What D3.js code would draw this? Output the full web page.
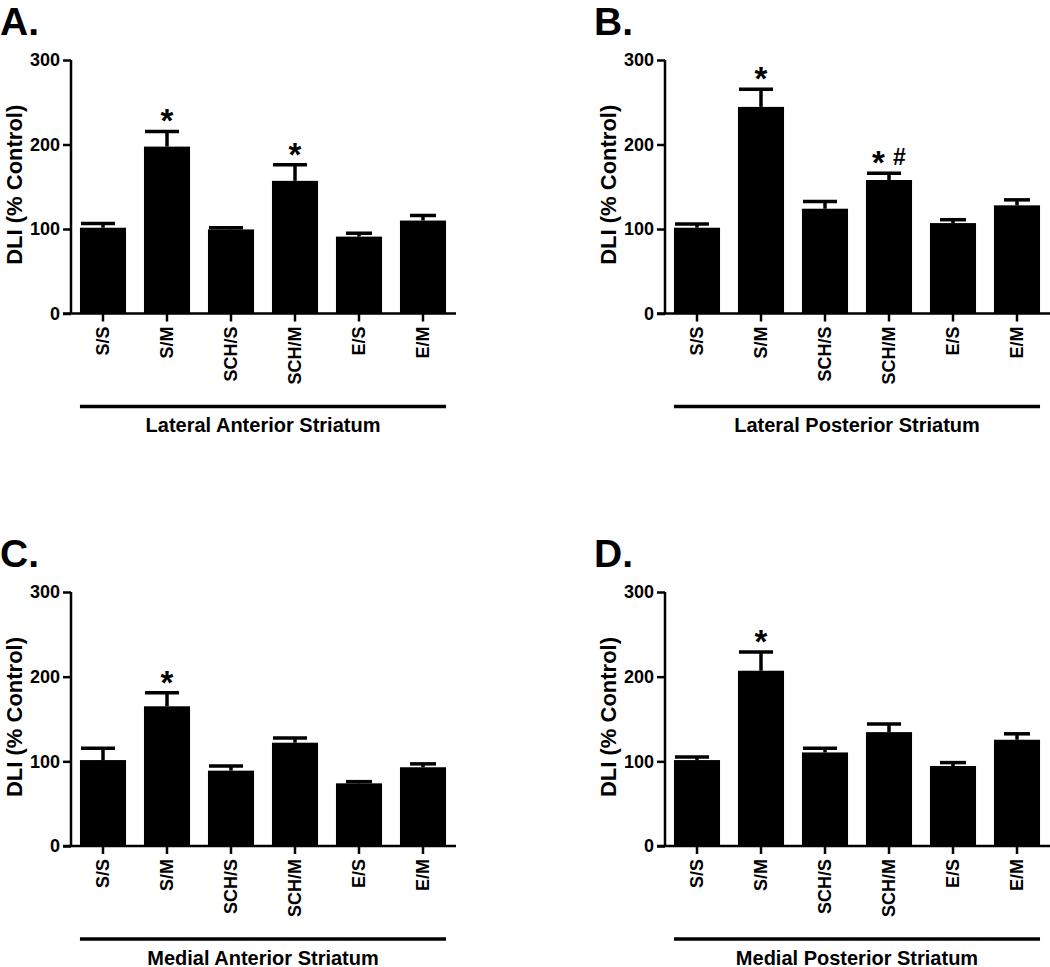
<!DOCTYPE html>
<html>
<head>
<meta charset="utf-8">
<script src="https://cdn.jsdelivr.net/npm/d3@7"></script>
<style>
  html, body { margin: 0; padding: 0; background: #fff; }
  svg text { font-family: "Liberation Sans", Arial, Helvetica, sans-serif; font-weight: bold; fill: #000; }
</style>
</head>
<body>
<svg id="chart" width="1050" height="967"></svg>
<script>
// ---- Data ----
const categories = ["S/S", "S/M", "SCH/S", "SCH/M", "E/S", "E/M"];
const yTicks = [0, 100, 200, 300];
const panelLetters = ["A.", "B.", "C.", "D."];
const regionTitles = ["Lateral Anterior Striatum", "Lateral Posterior Striatum",
                      "Medial Anterior Striatum", "Medial Posterior Striatum"];
const yAxisTitle = "DLI (% Control)";

const meansA = [101.5, 197.5, 99.5, 157, 91, 110];
const semA   = [5, 18, 2, 19, 4, 6];
const meansB = [101.5, 244.5, 124, 158, 107, 128];
const semB   = [4.5, 21, 8.5, 8, 4, 6.5];
const meansC = [101.5, 165, 89, 122, 74, 93];
const semC   = [14, 16, 5.5, 5.5, 2, 4];
const meansD = [101.5, 207, 110.5, 134.5, 94.5, 125.5];
const semD   = [3.5, 22, 5, 9.5, 4, 7];

const marksA = ["", "*", "", "*", "", ""];
const marksB = ["", "*", "", "* #", "", ""];
const marksC = ["", "*", "", "", "", ""];
const marksD = ["", "*", "", "", "", ""];

// ---- Layout (styling, not data) ----
const panels = [
  { letter: panelLetters[0], title: regionTitles[0], means: meansA, sem: semA, marks: marksA, ax: 71,  top: 60,  bottom: 313.5 },
  { letter: panelLetters[1], title: regionTitles[1], means: meansB, sem: semB, marks: marksB, ax: 665, top: 60,  bottom: 313.5 },
  { letter: panelLetters[2], title: regionTitles[2], means: meansC, sem: semC, marks: marksC, ax: 71,  top: 592, bottom: 846 },
  { letter: panelLetters[3], title: regionTitles[3], means: meansD, sem: semD, marks: marksD, ax: 665, top: 592, bottom: 846 }
];
// cap extents relative to bar centre (the first four groups have wider, left-shifted caps in the original)
const capExtent = i => i < 4 ? [-22, 12] : [-13, 13];

const svg = d3.select("#chart");
const axisW = 2.5;

panels.forEach(p => {
  const g = svg.append("g");
  const y = d3.scaleLinear().domain([0, 300]).range([p.bottom, p.top]);
  const x = d3.scaleBand().domain(categories).range([p.ax, p.ax + 384])
              .paddingInner(0.28).paddingOuter(0.14);

  // panel letter
  g.append("text").attr("x", p.ax - 71).attr("y", p.top - 25)
    .attr("font-size", 39).text(p.letter);

  // bars
  g.selectAll("rect.bar").data(categories).enter().append("rect")
    .attr("x", d => x(d)).attr("width", x.bandwidth())
    .attr("y", (d, i) => y(p.means[i]))
    .attr("height", (d, i) => y(0) - y(p.means[i]))
    .attr("fill", "#000");

  // error bars (upper)
  categories.forEach((c, i) => {
    const cx = x(c) + x.bandwidth() / 2;
    const yt = y(p.means[i] + p.sem[i]);
    const [l, r] = capExtent(i);
    g.append("line").attr("x1", cx).attr("x2", cx)
      .attr("y1", y(p.means[i])).attr("y2", yt)
      .attr("stroke", "#000").attr("stroke-width", 3.5);
    g.append("line").attr("x1", cx + l).attr("x2", cx + r)
      .attr("y1", yt).attr("y2", yt)
      .attr("stroke", "#000").attr("stroke-width", 3.5);
    if (p.marks[i]) {
      const toks = p.marks[i].split(" ");
      const spacing = 21;
      toks.forEach((t, k) => {
        const tx = cx + (k - (toks.length - 1) / 2) * spacing;
        if (t === "*") {
          g.append("text").attr("x", tx).attr("y", yt + 1)
            .attr("text-anchor", "middle").attr("font-size", 33).text(t);
        } else {
          g.append("text").attr("x", tx).attr("y", yt - 8)
            .attr("text-anchor", "middle").attr("font-size", 23).text(t);
        }
      });
    }
  });

  // y axis
  const yAxis = d3.axisLeft(y).tickValues(yTicks).tickSize(8).tickPadding(3).tickFormat(d3.format("d"));
  const ya = g.append("g").attr("transform", `translate(${p.ax},0)`).call(yAxis);
  ya.select(".domain").attr("stroke-width", axisW).attr("d", `M0,${p.top}V${p.bottom}`);
  ya.selectAll(".tick line").attr("stroke-width", axisW);
  ya.selectAll(".tick text").attr("font-size", 18).attr("font-family", null).attr("fill", "#000");

  // x axis
  const xAxis = d3.axisBottom(x).tickSize(8).tickSizeOuter(0);
  const xa = g.append("g").attr("transform", `translate(0,${p.bottom})`).call(xAxis);
  xa.select(".domain").attr("stroke-width", axisW).attr("d", `M${p.ax - 8},0H${p.ax + 385}`);
  xa.selectAll(".tick line").attr("stroke-width", axisW);
  xa.selectAll(".tick text")
    .attr("font-size", 18).attr("font-family", null).attr("fill", "#000")
    .attr("transform", "rotate(-90)")
    .attr("text-anchor", "end")
    .attr("x", -13).attr("y", 0).attr("dy", "0.35em");

  // y axis title
  g.append("text")
    .attr("transform", `translate(${p.ax - 49},${(p.top + p.bottom) / 2 - 2}) rotate(-90)`)
    .attr("text-anchor", "middle").attr("font-size", 22).text(yAxisTitle);

  // region underline and title
  const x0 = x(categories[0]);
  const x1 = x(categories[categories.length - 1]) + x.bandwidth();
  const ly = p.bottom + 93;
  g.append("line").attr("x1", x0).attr("x2", x1).attr("y1", ly).attr("y2", ly)
    .attr("stroke", "#000").attr("stroke-width", 3.5);
  g.append("text").attr("x", (x0 + x1) / 2).attr("y", ly + 25.5)
    .attr("text-anchor", "middle").attr("font-size", 20).text(p.title);
});
</script>
</body>
</html>
